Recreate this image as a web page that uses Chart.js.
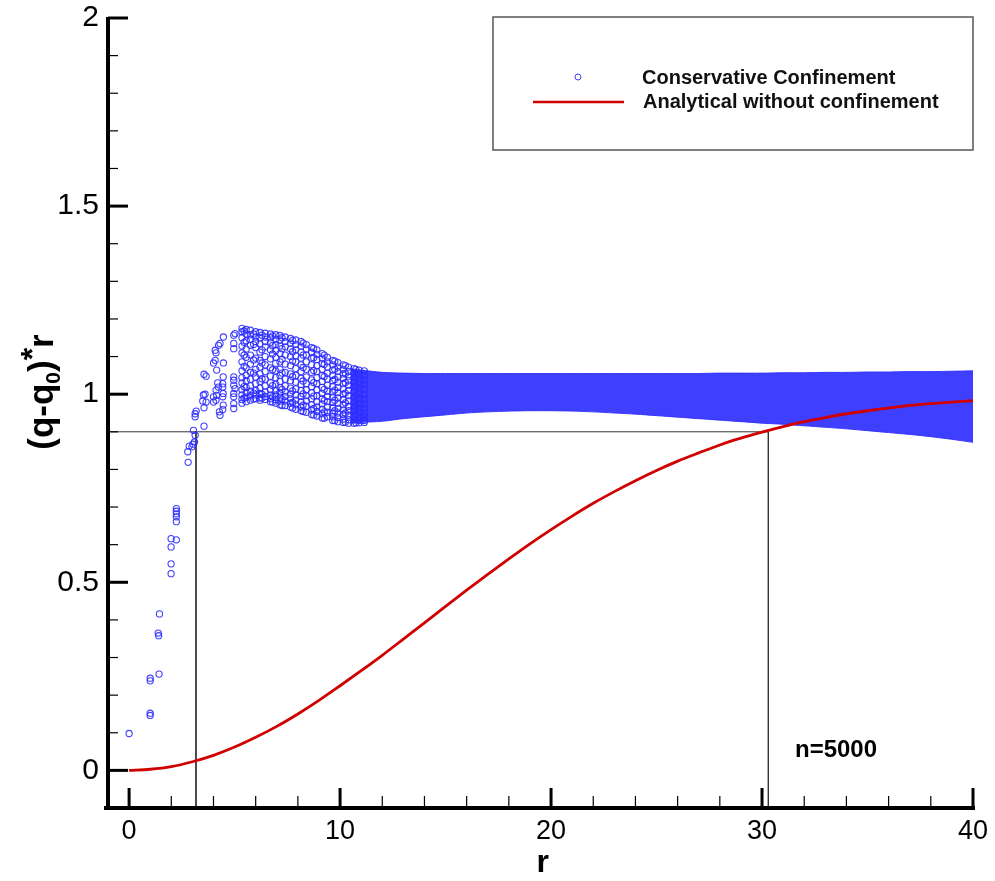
<!DOCTYPE html>
<html>
<head>
<meta charset="utf-8">
<script src="https://cdn.jsdelivr.net/npm/chart.js@4.4.1/dist/chart.umd.min.js"></script>
<style>
  html, body { margin: 0; padding: 0; background: #fff; }
  #wrap { position: relative; width: 995px; height: 881px; }
</style>
</head>
<body>
<div id="wrap"><canvas id="chart" width="995" height="881"></canvas></div>
<script>
// axis ticks
const xMajor = [0, 10, 20, 30, 40];
const xMinor = [2, 4, 6, 8, 12, 14, 16, 18, 22, 24, 26, 28, 32, 34, 36, 38];
const yMajor = [0, 0.5, 1, 1.5, 2];
const yMinor = [0.1, 0.2, 0.3, 0.4, 0.6, 0.7, 0.8, 0.9, 1.1, 1.2, 1.3, 1.4, 1.6, 1.7, 1.8, 1.9];
const yTickText = ['0', '0.5', '1', '1.5', '2'];

// confined solution, inner particles [r, (q-q0)*r]
const innerPts = [
  [0.00, 0.098],
  [1.00, 0.152], [1.00, 0.146], [1.00, 0.245], [1.00, 0.238],
  [1.42, 0.256], [1.38, 0.365], [1.40, 0.358], [1.44, 0.416],
  [1.99, 0.523], [1.99, 0.549], [1.99, 0.594], [1.99, 0.616],
  [2.24, 0.613], [2.24, 0.661], [2.24, 0.674], [2.24, 0.682], [2.24, 0.689], [2.24, 0.696],
  [2.80, 0.819], [2.78, 0.847], [2.85, 0.862], [2.98, 0.860], [3.02, 0.867], [3.10, 0.873],
  [3.13, 0.891], [3.05, 0.904], [3.55, 0.915], [3.13, 0.940], [3.13, 0.948], [3.18, 0.955],
  [3.55, 0.964], [3.49, 0.982], [3.65, 0.979], [3.52, 0.998], [3.60, 1.000], [3.55, 1.053], [3.65, 1.048],
  [4.00, 0.979], [4.12, 0.984], [4.00, 0.993], [4.15, 0.997], [4.12, 1.011], [4.23, 1.019], [4.20, 1.030],
  [4.28, 0.953], [4.31, 0.944], [4.44, 0.959], [4.46, 0.971],
  [4.44, 0.993], [4.46, 1.002], [4.44, 1.019], [4.44, 1.028], [4.46, 1.046],
  [4.00, 1.083], [4.08, 1.090], [4.12, 1.110], [4.08, 1.117], [4.24, 1.130], [4.31, 1.135], [4.47, 1.152],
  [4.47, 1.083], [4.15, 1.064],
  [4.96, 1.157], [5.02, 1.161], [4.96, 1.135], [4.96, 1.121], [4.96, 1.046], [4.96, 1.037],
  [4.96, 1.024], [5.02, 1.015], [4.96, 1.002], [4.96, 0.993], [4.96, 0.975], [4.96, 0.962]
];

// particle shells between r = 5 and r = 11
const shellR = [5.35, 5.55, 5.75, 6.0, 6.2, 6.45, 6.7, 6.95, 7.15, 7.4, 7.65, 7.9, 8.15, 8.4,
                8.65, 8.9, 9.15, 9.4, 9.65, 9.9, 10.15, 10.4, 10.65, 10.9, 11.15];
const shellQ = [
  [1.175, 1.166, 1.150, 1.128, 1.110, 1.086, 1.062, 1.044, 1.030, 1.012, 0.998, 0.986, 0.976],
  [1.172, 1.160, 1.142, 1.120, 1.098, 1.070, 1.050, 1.036, 1.018, 1.004, 0.992, 0.980],
  [1.170, 1.158, 1.146, 1.130, 1.104, 1.080, 1.058, 1.040, 1.022, 1.008, 0.996, 0.984],
  [1.166, 1.152, 1.140, 1.124, 1.096, 1.066, 1.046, 1.028, 1.010, 0.998, 0.988],
  [1.164, 1.150, 1.134, 1.112, 1.090, 1.072, 1.054, 1.034, 1.016, 1.002, 0.990, 0.984],
  [1.162, 1.152, 1.140, 1.126, 1.100, 1.078, 1.060, 1.040, 1.022, 1.006, 0.994, 0.986],
  [1.160, 1.150, 1.138, 1.118, 1.094, 1.070, 1.048, 1.030, 1.012, 0.998, 0.988, 0.980],
  [1.158, 1.146, 1.132, 1.116, 1.098, 1.082, 1.062, 1.044, 1.026, 1.010, 0.998, 0.986, 0.976],
  [1.156, 1.144, 1.128, 1.108, 1.086, 1.066, 1.050, 1.034, 1.018, 1.004, 0.992, 0.982, 0.972],
  [1.152, 1.140, 1.126, 1.104, 1.080, 1.058, 1.040, 1.022, 1.006, 0.994, 0.982, 0.970],
  [1.148, 1.136, 1.120, 1.100, 1.076, 1.054, 1.036, 1.016, 1.000, 0.988, 0.976, 0.966],
  [1.144, 1.132, 1.118, 1.102, 1.086, 1.068, 1.050, 1.032, 1.014, 0.998, 0.984, 0.972, 0.960],
  [1.140, 1.128, 1.112, 1.096, 1.078, 1.060, 1.042, 1.026, 1.010, 0.994, 0.980, 0.966, 0.956],
  [1.132, 1.120, 1.104, 1.086, 1.066, 1.046, 1.028, 1.012, 0.996, 0.982, 0.968, 0.952],
  [1.124, 1.112, 1.096, 1.078, 1.058, 1.038, 1.020, 1.004, 0.988, 0.972, 0.958, 0.946],
  [1.118, 1.106, 1.092, 1.076, 1.060, 1.044, 1.028, 1.012, 0.996, 0.980, 0.966, 0.954, 0.942],
  [1.108, 1.096, 1.082, 1.066, 1.050, 1.034, 1.018, 1.002, 0.988, 0.974, 0.960, 0.948, 0.937],
  [1.098, 1.086, 1.072, 1.056, 1.040, 1.024, 1.008, 0.994, 0.980, 0.966, 0.952, 0.940],
  [1.090, 1.078, 1.064, 1.050, 1.036, 1.020, 1.006, 0.992, 0.978, 0.964, 0.950, 0.940, 0.930],
  [1.084, 1.072, 1.060, 1.046, 1.032, 1.018, 1.004, 0.990, 0.976, 0.962, 0.950, 0.938, 0.927],
  [1.078, 1.066, 1.054, 1.042, 1.028, 1.014, 1.000, 0.986, 0.972, 0.958, 0.946, 0.934, 0.925],
  [1.072, 1.060, 1.048, 1.036, 1.024, 1.010, 0.996, 0.982, 0.968, 0.956, 0.944, 0.932, 0.923],
  [1.068, 1.056, 1.044, 1.032, 1.020, 1.006, 0.992, 0.978, 0.966, 0.954, 0.942, 0.932, 0.923],
  [1.064, 1.052, 1.040, 1.028, 1.016, 1.002, 0.988, 0.976, 0.964, 0.952, 0.940, 0.930, 0.924],
  [1.062, 1.050, 1.038, 1.026, 1.014, 1.000, 0.986, 0.974, 0.962, 0.950, 0.940, 0.930, 0.925]
];
// particles lying between the main shells
const midR = [5.45, 5.9, 6.3, 6.8, 7.25, 7.75, 8.25, 8.75, 9.25, 9.75, 10.25, 10.75];
const midQ = [
  [1.168, 1.138, 1.104, 1.074, 1.020, 0.990],
  [1.160, 1.132, 1.091, 1.056, 1.003, 0.987],
  [1.157, 1.118, 1.083, 1.041, 1.000, 0.990],
  [1.155, 1.129, 1.107, 1.065, 1.023, 0.993, 0.979],
  [1.150, 1.121, 1.093, 1.056, 1.013, 0.987, 0.970],
  [1.143, 1.113, 1.088, 1.047, 1.009, 0.978, 0.963],
  [1.136, 1.104, 1.071, 1.035, 1.001, 0.971, 0.954],
  [1.122, 1.097, 1.063, 1.031, 0.995, 0.962, 0.945],
  [1.104, 1.079, 1.047, 1.013, 0.983, 0.953, 0.936],
  [1.088, 1.066, 1.039, 1.011, 0.984, 0.956, 0.930],
  [1.076, 1.055, 1.031, 1.003, 0.977, 0.950, 0.926],
  [1.066, 1.047, 1.021, 0.997, 0.971, 0.946, 0.924]
];

// outer particles are packed solid: upper / lower edge of the cloud
const bandR      = [10.5, 11, 12, 13, 14, 15, 16, 17, 18, 19, 20, 21, 22, 23, 24, 25, 26, 27, 28, 29, 30,
                    31, 32, 33, 34, 35, 36, 37, 38, 39, 40];
const bandTop    = [1.068, 1.064, 1.058, 1.056, 1.055, 1.055, 1.055, 1.055, 1.055, 1.055, 1.055, 1.055, 1.055,
                    1.055, 1.055, 1.055, 1.055, 1.055, 1.056, 1.056, 1.056, 1.057, 1.057, 1.058, 1.058,
                    1.059, 1.059, 1.060, 1.060, 1.061, 1.062];
const bandBottom = [0.923, 0.925, 0.928, 0.935, 0.940, 0.945, 0.950, 0.953, 0.955, 0.956, 0.956, 0.955, 0.953,
                    0.950, 0.947, 0.943, 0.939, 0.935, 0.931, 0.927, 0.923, 0.920, 0.916, 0.912, 0.908,
                    0.903, 0.898, 0.893, 0.887, 0.880, 0.872];

// analytical profile without confinement
const analyticR = [0, 1, 2, 3, 4, 5, 6, 7, 8, 9, 10, 11, 12, 13, 14, 15, 16, 17, 18, 19, 20,
                   21, 22, 23, 24, 25, 26, 27, 28, 29, 30, 31, 32, 33, 34, 35, 36, 37, 38, 39, 40];
const analyticQ = [0, 0.003, 0.010, 0.023, 0.040, 0.062, 0.088, 0.117, 0.150, 0.186, 0.225,
                   0.265, 0.306, 0.349, 0.392, 0.436, 0.479, 0.521, 0.562, 0.602, 0.640,
                   0.676, 0.710, 0.741, 0.770, 0.797, 0.822, 0.844, 0.865, 0.883, 0.899,
                   0.914, 0.927, 0.938, 0.948, 0.956, 0.963, 0.970, 0.975, 0.979, 0.983];

// 90% level and where each curve reaches it
const refLevel = 0.9;
const refR = [3.17, 30.3];

const X_MIN = -1, X_MAX = 40, Y_MIN = -0.1, Y_MAX = 2;
const FONT = '"Liberation Sans", Arial, Helvetica, sans-serif';
const BLUE = 'rgba(45, 45, 255, 0.9)';
const RED = '#d10000';

const confPts = innerPts.map(p => ({ x: p[0], y: p[1] }));
shellR.forEach((r, i) => shellQ[i].forEach(q => confPts.push({ x: r, y: q })));
midR.forEach((r, i) => midQ[i].forEach(q => confPts.push({ x: r, y: q })));

const frame = {
  id: 'tecFrame',
  afterDraw(chart) {
    const { ctx, chartArea: a, scales: { x, y } } = chart;
    const px = v => x.getPixelForValue(v);
    const py = v => y.getPixelForValue(v);
    const seg = (x1, y1, x2, y2) => { ctx.beginPath(); ctx.moveTo(x1, y1); ctx.lineTo(x2, y2); ctx.stroke(); };
    ctx.save();
    ctx.strokeStyle = '#000';

    // minor ticks
    ctx.lineWidth = 1.2;
    yMinor.forEach(v => seg(a.left, py(v), a.left + 10, py(v)));
    xMinor.forEach(v => seg(px(v), a.bottom, px(v), a.bottom - 12));
    // major ticks
    ctx.lineWidth = 3;
    yMajor.forEach(v => seg(a.left, py(v), a.left + 20, py(v)));
    xMajor.forEach(v => seg(px(v), a.bottom, px(v), a.bottom - 20));
    // axis lines
    ctx.lineWidth = 4;
    seg(a.left, a.top - 1, a.left, a.bottom + 2);
    seg(a.left - 4, a.bottom, a.right + 2, a.bottom);

    // tick labels
    ctx.fillStyle = '#000';
    ctx.font = '30px ' + FONT;
    ctx.textAlign = 'right';
    ctx.textBaseline = 'middle';
    yMajor.forEach((v, i) => ctx.fillText(yTickText[i], a.left - 9, py(v)));
    ctx.font = '27px ' + FONT;
    ctx.textAlign = 'center';
    ctx.textBaseline = 'top';
    xMajor.forEach(v => ctx.fillText(String(v), px(v), a.bottom + 10));

    // axis titles
    ctx.font = 'bold 32px ' + FONT;
    ctx.textBaseline = 'alphabetic';
    ctx.fillText('r', px(19.6), 872);

    ctx.save();
    ctx.translate(53, 392);
    ctx.rotate(-Math.PI / 2);
    const parts = [
      { t: '(q-q', f: 'bold 35px ', dy: 0 },
      { t: '0', f: 'bold 21px ', dy: 7 },
      { t: ')', f: 'bold 35px ', dy: 0 },
      { t: '*', f: 'bold 32px ', dy: -10 },
      { t: 'r', f: 'bold 35px ', dy: 0 }
    ];
    let w = 0;
    parts.forEach(p => { ctx.font = p.f + FONT; w += ctx.measureText(p.t).width; });
    let cx = -w / 2;
    ctx.textAlign = 'left';
    parts.forEach(p => { ctx.font = p.f + FONT; ctx.fillText(p.t, cx, p.dy); cx += ctx.measureText(p.t).width; });
    ctx.restore();

    // annotation
    ctx.font = 'bold 24px ' + FONT;
    ctx.textAlign = 'left';
    ctx.fillText('n=5000', 795, 757);

    // legend box
    const ds = chart.data.datasets;
    ctx.fillStyle = '#fff';
    ctx.fillRect(493, 17, 480, 133);
    ctx.strokeStyle = '#555';
    ctx.lineWidth = 1.5;
    ctx.strokeRect(493, 17, 480, 133);
    ctx.strokeStyle = BLUE;
    ctx.lineWidth = 1;
    ctx.beginPath(); ctx.arc(578, 77, 3, 0, Math.PI * 2); ctx.stroke();
    ctx.strokeStyle = RED;
    ctx.lineWidth = 2.5;
    seg(533, 102, 624, 102);
    ctx.fillStyle = '#111';
    ctx.font = 'bold 20px ' + FONT;
    ctx.fillText(ds[1].label, 642, 84);
    ctx.fillText(ds[0].label, 643, 108);
    ctx.restore();
  }
};

new Chart(document.getElementById('chart'), {
  type: 'scatter',
  data: {
    datasets: [
      {
        label: 'Analytical without confinement',
        type: 'line',
        data: analyticR.map((r, i) => ({ x: r, y: analyticQ[i] })),
        borderColor: RED,
        borderWidth: 2.8,
        pointRadius: 0,
        cubicInterpolationMode: 'monotone',
        fill: false,
        order: 0
      },
      {
        label: 'Conservative Confinement',
        data: confPts,
        pointStyle: 'circle',
        pointRadius: 3.1,
        borderWidth: 1.1,
        borderColor: BLUE,
        backgroundColor: 'rgba(0,0,0,0)',
        clip: 8,
        order: 1
      },
      {
        label: 'cloud top',
        type: 'line',
        data: bandR.map((r, i) => ({ x: r, y: bandTop[i] })),
        borderColor: 'rgba(48,48,255,0.9)',
        borderWidth: 1,
        backgroundColor: 'rgba(48,48,255,0.93)',
        pointRadius: 0,
        tension: 0.3,
        fill: '+1',
        clip: 8,
        order: 2
      },
      {
        label: 'cloud bottom',
        type: 'line',
        data: bandR.map((r, i) => ({ x: r, y: bandBottom[i] })),
        borderColor: 'rgba(48,48,255,0.9)',
        borderWidth: 1,
        pointRadius: 0,
        tension: 0.3,
        fill: false,
        clip: 8,
        order: 2
      },
      {
        label: 'level',
        type: 'line',
        data: [{ x: X_MIN, y: refLevel }, { x: refR[1], y: refLevel }, { x: refR[1], y: Y_MIN }],
        borderColor: '#333',
        borderWidth: 1,
        pointRadius: 0,
        fill: false,
        order: 3
      },
      {
        label: 'level drop',
        type: 'line',
        data: [{ x: refR[0], y: refLevel }, { x: refR[0], y: Y_MIN }],
        borderColor: '#333',
        borderWidth: 1,
        pointRadius: 0,
        fill: false,
        order: 3
      }
    ]
  },
  options: {
    responsive: false,
    animation: false,
    devicePixelRatio: 1,
    layout: { padding: { left: 108, right: 22, top: 18, bottom: 73 } },
    scales: {
      x: { type: 'linear', min: X_MIN, max: X_MAX, display: false },
      y: { type: 'linear', min: Y_MIN, max: Y_MAX, display: false }
    },
    plugins: { legend: { display: false }, tooltip: { enabled: false } }
  },
  plugins: [frame]
});
</script>
</body>
</html>
